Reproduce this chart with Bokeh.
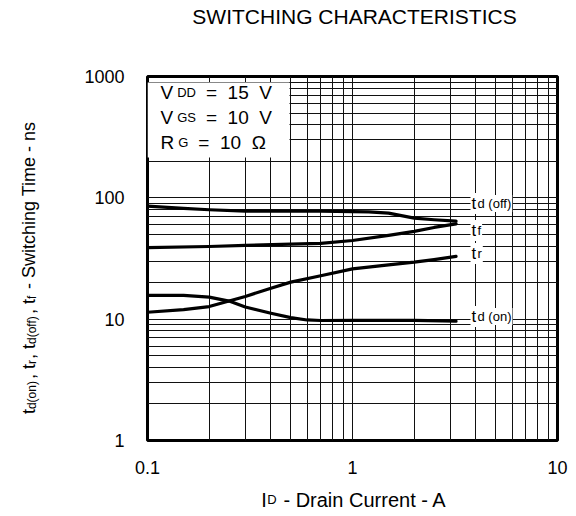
import math
from bokeh.plotting import figure
from bokeh.models import Label, FixedTicker, BoxAnnotation
from bokeh.embed import file_html
from bokeh.resources import INLINE

# ---- data ----
id_off = [0.1, 0.15, 0.2, 0.3, 0.5, 0.7, 1.0, 1.2, 1.5, 2.0, 2.5, 3.2]
td_off = [85.4, 82.0, 79.8, 77.7, 77.5, 77.5, 77.0, 76.5, 74.8, 68.0, 66.0, 64.3]
id_f = [0.1, 0.2, 0.3, 0.5, 0.7, 1.0, 1.5, 2.0, 2.5, 3.2]
tf = [38.8, 39.7, 40.5, 41.6, 42.2, 44.5, 49.0, 52.9, 57.0, 61.0]
id_r = [0.1, 0.15, 0.2, 0.25, 0.3, 0.4, 0.5, 0.7, 1.0, 1.5, 2.0, 2.5, 3.2]
tr = [11.4, 12.0, 12.7, 14.1, 15.4, 18.0, 20.2, 22.8, 26.0, 28.0, 29.5, 31.0, 32.9]
id_on = [0.1, 0.15, 0.2, 0.25, 0.3, 0.4, 0.5, 0.6, 0.7, 1.0, 2.0, 3.2]
td_on = [15.7, 15.7, 15.2, 14.1, 12.6, 11.2, 10.3, 9.85, 9.75, 9.76, 9.76, 9.63]

x_ticks = [0.1, 1, 10]
x_tick_labels = ["0.1", "1", "10"]
y_ticks = [1, 10, 100, 1000]
y_tick_labels = ["1", "10", "100", "1000"]

FONT = "Liberation Sans"
NB = "\u00a0"
BL = 7   # Bokeh places the alphabetic baseline this many px lower than asked

W, H = 570, 512
FL, FT, FR, FB = 147, 76, 557, 440          # frame edges in page pixels
ML, MT, MR, MB = FL, FT, W - FR, H - FB
XDEC = (FR - FL) / 2.0
YDEC = (FB - FT) / 3.0


def xdat(px):
    return 0.1 * 10 ** ((px - FL) / XDEC)


def ydat(py):
    return 10 ** ((FB - py) / YDEC)


p = figure(width=W, height=H, x_axis_type="log", y_axis_type="log",
           x_range=(0.1, 10), y_range=(1, 1000),
           output_backend="svg", toolbar_location=None,
           min_border_left=ML, min_border_right=MR,
           min_border_top=MT, min_border_bottom=MB)
p.title = None
p.background_fill_color = "white"
p.border_fill_color = "white"
p.outline_line_color = "black"
p.outline_line_width = 3

xminor = [m * d for d in (0.1, 1) for m in range(2, 10)]
yminor = [m * d for d in (1, 10, 100) for m in range(2, 10)]
p.xaxis.ticker = FixedTicker(ticks=x_ticks, minor_ticks=xminor)
p.yaxis.ticker = FixedTicker(ticks=y_ticks, minor_ticks=yminor)
p.xaxis.major_label_overrides = {t: l for t, l in zip(x_ticks, x_tick_labels)}
p.yaxis.major_label_overrides = {t: l for t, l in zip(y_ticks, y_tick_labels)}
for ax in (p.xaxis, p.yaxis):
    ax.axis_line_color = None
    ax.major_tick_line_color = None
    ax.minor_tick_line_color = None
    ax.major_tick_out = 0
    ax.major_tick_in = 0
    ax.minor_tick_out = 0
    ax.minor_tick_in = 0
    ax.major_label_text_font = FONT
    ax.major_label_text_font_size = "18px"
    ax.major_label_text_color = "black"
p.yaxis.major_label_standoff = 23
p.xaxis.major_label_standoff = 20

for g in (p.xgrid, p.ygrid):
    g.grid_line_color = "#111111"
    g.grid_line_width = 1
    g.grid_line_alpha = 1
    g.minor_grid_line_color = "#111111"
    g.minor_grid_line_width = 1

for xs, ys in ((id_off, td_off), (id_f, tf), (id_r, tr), (id_on, td_on)):
    p.line(xs, ys, line_color="black", line_width=3.2, line_join="round", line_cap="round")

# Arial / Liberation Sans advance widths (per 1000 em)
CW = {"t": 278, "d": 556, "(": 333, ")": 333, "o": 556, "n": 556, ",": 278, " ": 278,
      NB: 278, "r": 333, "f": 278, "-": 333, "S": 667, "w": 722, "i": 222, "c": 500,
      "h": 556, "g": 556, "T": 611, "m": 833, "e": 556, "s": 500, "I": 278, "D": 722,
      "a": 556, "C": 722, "u": 556, "A": 667, "V": 667, "G": 778, "R": 722, "=": 584,
      "1": 556, "5": 556, "0": 556, "Ω": 768}


def tw(s, size):
    return sum(CW.get(ch, 556) for ch in s) * size / 1000.0


def lab(text, px, py, size, place="center", dx=0, dy=0, rot=False, **kw):
    """Label anchored through the plot's own scales (data units); py is the baseline."""
    if rot:
        px = px - BL
    else:
        py = py - BL
    l = Label(x=xdat(px), y=ydat(py), x_offset=dx, y_offset=dy, text=text,
              text_font=FONT, text_font_size=f"{size}px", text_color="black",
              text_baseline="alphabetic", angle=(math.pi / 2 if rot else 0), **kw)
    if place == "center":
        p.add_layout(l)
    else:
        p.add_layout(l, place)
    return l


# ---- white box behind the test conditions ----
p.add_layout(BoxAnnotation(left=xdat(147), right=xdat(289), bottom=ydat(157), top=ydat(82),
                           fill_color="white", fill_alpha=1, line_color=None))

cond_rows = [("V", "DD", "=", "15", "V"), ("V", "GS", "=", "10", "V"), ("R", "G", "=", "10", "Ω")]
row_base = [99, 124, 149]
CM, CS = 19, 13
for (a, b, eq, num, unit), yb in zip(cond_rows, row_base):
    x = 160
    lab(a, x, yb, CM)
    x += tw(a, CM) + 4
    lab(b, x, yb, CS)
    x += tw(b, CS) + 10
    lab(eq + NB + NB + num + NB + NB + unit, x, yb, CM)

# ---- curve labels ----
curve_labels = [("d (off)", 210), ("f", 237), ("r", 260), ("d (on)", 323)]
for sub, yb in curve_labels:
    lab("t", 470, yb, 17, background_fill_color="white", background_fill_alpha=1, padding=1)
    lab(sub, 476, yb, 13, background_fill_color="white", background_fill_alpha=1, padding=1)

# ---- title (above panel) ----
lab("SWITCHING CHARACTERISTICS", 354, 23, 21, place="above", text_align="center")

# ---- x axis label: I_D - Drain Current - A ----
XM, XS = 20, 13
nD = max(1, round(tw("D", XS) / tw(NB, XM)))
x_main = "I" + NB * nD + " - Drain Current - A"
L = tw(x_main, XM)
x_start = 353.5 - L / 2
lab(x_main, x_start, 506, XM, place="below")
lab("D", x_start + tw("I", XM) + 0.5, 506, XS, place="above")

# ---- y axis label (rotated): t_d(on), t_r, t_d(off), t_f - Switching Time - ns ----
YM, YS = 18, 12
parts = [("t", None), (None, "d(on)"), (", t", None), (None, "r"), (", t", None),
         (None, "d(off)"), (", t", None), (None, "f"), (" - Switching Time - ns", None)]
main = ""
subs = []
pos = 0.0
for m, s in parts:
    if m is not None:
        main += m
        pos += tw(m, YM)
    else:
        n = max(1, round(tw(s, YS) / tw(NB, YM) + 0.2))
        subs.append((s, pos))
        main += NB * n
        pos += n * tw(NB, YM)
Ly = pos
y_bottom = 267 + Ly / 2
BX = 35
lab(main, BX, y_bottom, YM, place="left", rot=True)
for s, off in subs:
    lab(s, BX + 3, y_bottom - off, YS, place="left", rot=True)

open("out.html", "w").write(file_html(p, INLINE))
